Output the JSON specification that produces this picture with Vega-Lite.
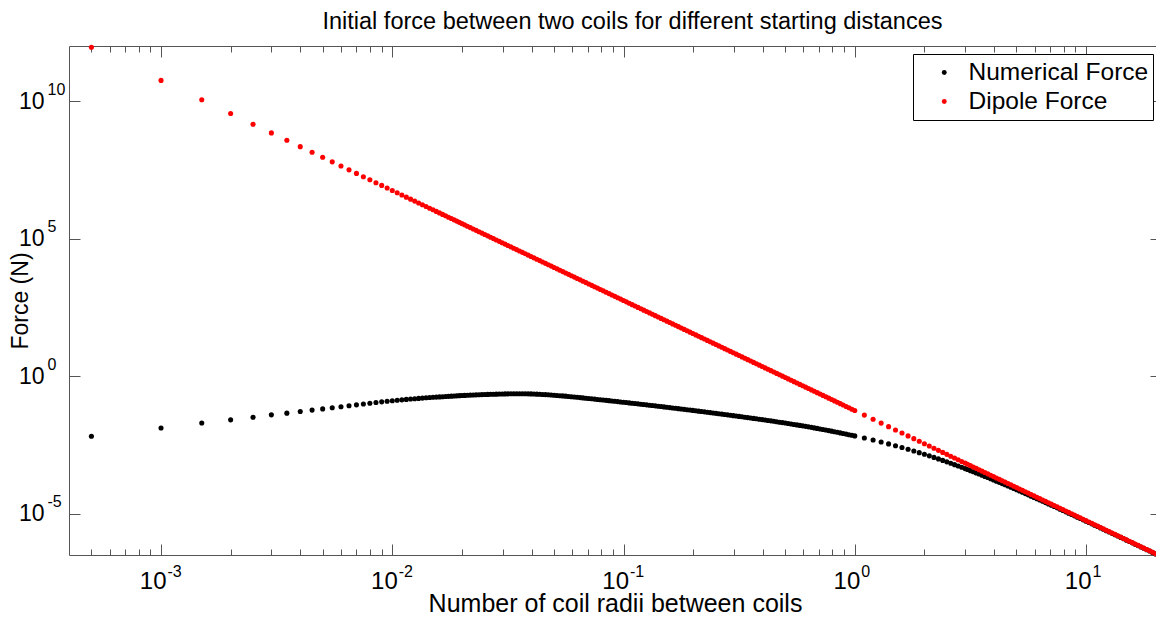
{
  "$schema": "https://vega.github.io/schema/vega-lite/v6.json",
  "width": 1087,
  "height": 509,
  "autosize": {"type": "none"},
  "padding": {"left": 69, "top": 46, "right": 0, "bottom": 65},
  "background": "#ffffff",
  "title": {
    "text": "Initial force between two coils for different starting distances",
    "font": "Liberation Sans",
    "fontSize": 23.5,
    "fontWeight": "normal",
    "color": "#000000",
    "anchor": "middle",
    "frame": "group",
    "baseline": "alphabetic",
    "offset": 17,
    "dx": 20,
    "dy": 25
  },
  "config": {
    "view": {"stroke": null},
    "axis": {
      "grid": false,
      "domainColor": "#555555",
      "tickColor": "#555555",
      "labelColor": "#000000",
      "titleColor": "#000000",
      "labelFont": "Liberation Sans",
      "titleFont": "Liberation Sans",
      "titleFontWeight": "normal",
      "labelFlush": false,
      "labelOverlap": false,
      "labelBound": false
    }
  },
  "data": {
    "values": [
      {"d":0.0005,"n":0.00653,"p":8.997e11},
      {"d":0.001,"n":0.0131,"p":5.623e10},
      {"d":0.0015,"n":0.0198,"p":1.111e10},
      {"d":0.002,"n":0.0258,"p":3.515e9},
      {"d":0.0025,"n":0.0321,"p":1.44e9},
      {"d":0.003,"n":0.0392,"p":6.942e8},
      {"d":0.0035,"n":0.0452,"p":3.747e8},
      {"d":0.004,"n":0.0521,"p":2.197e8},
      {"d":0.0045,"n":0.0583,"p":1.371e8},
      {"d":0.005,"n":0.0646,"p":8.997e7},
      {"d":0.0055,"n":0.0708,"p":6.145e7},
      {"d":0.006,"n":0.0774,"p":4.339e7},
      {"d":0.0065,"n":0.084,"p":3.15e7},
      {"d":0.007,"n":0.0905,"p":2.342e7},
      {"d":0.0075,"n":0.0972,"p":1.777e7},
      {"d":0.008,"n":0.1035,"p":1.373e7},
      {"d":0.0085,"n":0.1102,"p":1.077e7},
      {"d":0.009,"n":0.1164,"p":8.571e6},
      {"d":0.0095,"n":0.1219,"p":6.904e6},
      {"d":0.01,"n":0.1276,"p":5.623e6},
      {"d":0.0105,"n":0.1327,"p":4.626e6},
      {"d":0.011,"n":0.138,"p":3.841e6},
      {"d":0.0115,"n":0.1429,"p":3.215e6},
      {"d":0.012,"n":0.1472,"p":2.712e6},
      {"d":0.0125,"n":0.1517,"p":2.303e6},
      {"d":0.013,"n":0.1556,"p":1.969e6},
      {"d":0.0135,"n":0.1596,"p":1.693e6},
      {"d":0.014,"n":0.1633,"p":1.464e6},
      {"d":0.0145,"n":0.1671,"p":1.272e6},
      {"d":0.015,"n":0.1702,"p":1.111e6},
      {"d":0.0155,"n":0.1734,"p":9.742e5},
      {"d":0.016,"n":0.1766,"p":8.58e5},
      {"d":0.0165,"n":0.1795,"p":7.587e5},
      {"d":0.017,"n":0.182,"p":6.733e5},
      {"d":0.0175,"n":0.1845,"p":5.996e5},
      {"d":0.018,"n":0.1875,"p":5.357e5},
      {"d":0.0185,"n":0.1901,"p":4.801e5},
      {"d":0.019,"n":0.1928,"p":4.315e5},
      {"d":0.0195,"n":0.1954,"p":3.889e5},
      {"d":0.02,"n":0.1977,"p":3.514e5},
      {"d":0.02054,"n":0.2,"p":3.162e5},
      {"d":0.02113,"n":0.2023,"p":2.818e5},
      {"d":0.02175,"n":0.2046,"p":2.512e5},
      {"d":0.02239,"n":0.207,"p":2.239e5},
      {"d":0.02304,"n":0.2091,"p":1.995e5},
      {"d":0.02371,"n":0.2113,"p":1.778e5},
      {"d":0.02441,"n":0.2135,"p":1.585e5},
      {"d":0.02512,"n":0.2158,"p":1.413e5},
      {"d":0.02585,"n":0.2173,"p":1.259e5},
      {"d":0.02661,"n":0.219,"p":1.122e5},
      {"d":0.02738,"n":0.2208,"p":1e5},
      {"d":0.02818,"n":0.2223,"p":8.913e4},
      {"d":0.02901,"n":0.2236,"p":7.943e4},
      {"d":0.02985,"n":0.2249,"p":7.079e4},
      {"d":0.03073,"n":0.2262,"p":6.31e4},
      {"d":0.03162,"n":0.2275,"p":5.623e4},
      {"d":0.03255,"n":0.2281,"p":5.012e4},
      {"d":0.0335,"n":0.2288,"p":4.467e4},
      {"d":0.03447,"n":0.2294,"p":3.981e4},
      {"d":0.03548,"n":0.2301,"p":3.548e4},
      {"d":0.03652,"n":0.2292,"p":3.162e4},
      {"d":0.03758,"n":0.2283,"p":2.818e4},
      {"d":0.03868,"n":0.2274,"p":2.512e4},
      {"d":0.03981,"n":0.2265,"p":2.239e4},
      {"d":0.04097,"n":0.224,"p":1.995e4},
      {"d":0.04217,"n":0.2216,"p":1.778e4},
      {"d":0.0434,"n":0.2191,"p":1.585e4},
      {"d":0.04467,"n":0.2168,"p":1.413e4},
      {"d":0.04597,"n":0.2133,"p":1.259e4},
      {"d":0.04732,"n":0.2099,"p":1.122e4},
      {"d":0.0487,"n":0.2065,"p":1e4},
      {"d":0.05012,"n":0.2032,"p":8913},
      {"d":0.05158,"n":0.1991,"p":7943},
      {"d":0.05309,"n":0.1952,"p":7079},
      {"d":0.05464,"n":0.1913,"p":6310},
      {"d":0.05623,"n":0.1875,"p":5623},
      {"d":0.05788,"n":0.1831,"p":5012},
      {"d":0.05957,"n":0.1789,"p":4467},
      {"d":0.06131,"n":0.1747,"p":3981},
      {"d":0.0631,"n":0.1706,"p":3548},
      {"d":0.06494,"n":0.1663,"p":3162},
      {"d":0.06683,"n":0.1622,"p":2818},
      {"d":0.06879,"n":0.1581,"p":2512},
      {"d":0.07079,"n":0.1542,"p":2239},
      {"d":0.07286,"n":0.1502,"p":1995},
      {"d":0.07499,"n":0.1464,"p":1778},
      {"d":0.07718,"n":0.1427,"p":1585},
      {"d":0.07943,"n":0.139,"p":1413},
      {"d":0.08175,"n":0.1354,"p":1259},
      {"d":0.08414,"n":0.132,"p":1122},
      {"d":0.0866,"n":0.1286,"p":1000},
      {"d":0.08913,"n":0.1253,"p":891.3},
      {"d":0.09173,"n":0.122,"p":794.3},
      {"d":0.09441,"n":0.1189,"p":707.9},
      {"d":0.09716,"n":0.1157,"p":631},
      {"d":0.1,"n":0.1127,"p":562.3},
      {"d":0.1029,"n":0.1097,"p":501.2},
      {"d":0.1059,"n":0.1068,"p":446.7},
      {"d":0.109,"n":0.1039,"p":398.1},
      {"d":0.1122,"n":0.1012,"p":354.8},
      {"d":0.1155,"n":0.0984,"p":316.2},
      {"d":0.1189,"n":0.09572,"p":281.8},
      {"d":0.1223,"n":0.09311,"p":251.2},
      {"d":0.1259,"n":0.09057,"p":223.9},
      {"d":0.1296,"n":0.08805,"p":199.5},
      {"d":0.1334,"n":0.0856,"p":177.8},
      {"d":0.1372,"n":0.08321,"p":158.5},
      {"d":0.1413,"n":0.08091,"p":141.3},
      {"d":0.1454,"n":0.07862,"p":125.9},
      {"d":0.1496,"n":0.07638,"p":112.2},
      {"d":0.154,"n":0.07421,"p":100},
      {"d":0.1585,"n":0.07211,"p":89.13},
      {"d":0.1631,"n":0.07002,"p":79.43},
      {"d":0.1679,"n":0.068,"p":70.79},
      {"d":0.1728,"n":0.06603,"p":63.1},
      {"d":0.1778,"n":0.06412,"p":56.23},
      {"d":0.183,"n":0.06223,"p":50.12},
      {"d":0.1884,"n":0.06039,"p":44.67},
      {"d":0.1939,"n":0.05861,"p":39.81},
      {"d":0.1995,"n":0.05689,"p":35.48},
      {"d":0.2054,"n":0.05516,"p":31.62},
      {"d":0.2113,"n":0.05351,"p":28.18},
      {"d":0.2175,"n":0.0519,"p":25.12},
      {"d":0.2239,"n":0.05035,"p":22.39},
      {"d":0.2304,"n":0.04881,"p":19.95},
      {"d":0.2371,"n":0.04732,"p":17.78},
      {"d":0.2441,"n":0.04587,"p":15.85},
      {"d":0.2512,"n":0.04446,"p":14.13},
      {"d":0.2585,"n":0.04307,"p":12.59},
      {"d":0.2661,"n":0.04174,"p":11.22},
      {"d":0.2738,"n":0.04043,"p":10},
      {"d":0.2818,"n":0.03917,"p":8.913},
      {"d":0.2901,"n":0.03793,"p":7.943},
      {"d":0.2985,"n":0.03673,"p":7.079},
      {"d":0.3073,"n":0.03556,"p":6.31},
      {"d":0.3162,"n":0.03443,"p":5.623},
      {"d":0.3255,"n":0.03332,"p":5.012},
      {"d":0.335,"n":0.03225,"p":4.467},
      {"d":0.3447,"n":0.03121,"p":3.981},
      {"d":0.3548,"n":0.0302,"p":3.548},
      {"d":0.3652,"n":0.02921,"p":3.162},
      {"d":0.3758,"n":0.02825,"p":2.818},
      {"d":0.3868,"n":0.02732,"p":2.512},
      {"d":0.3981,"n":0.02642,"p":2.239},
      {"d":0.4097,"n":0.0255,"p":1.995},
      {"d":0.4217,"n":0.0246,"p":1.778},
      {"d":0.434,"n":0.02374,"p":1.585},
      {"d":0.4467,"n":0.02291,"p":1.413},
      {"d":0.4597,"n":0.02207,"p":1.259},
      {"d":0.4732,"n":0.02126,"p":1.122},
      {"d":0.487,"n":0.02048,"p":1},
      {"d":0.5012,"n":0.01972,"p":0.8913},
      {"d":0.5158,"n":0.01897,"p":0.7943},
      {"d":0.5309,"n":0.01826,"p":0.7079},
      {"d":0.5464,"n":0.01757,"p":0.631},
      {"d":0.5623,"n":0.0169,"p":0.5623},
      {"d":0.5788,"n":0.01624,"p":0.5012},
      {"d":0.5957,"n":0.0156,"p":0.4467},
      {"d":0.6131,"n":0.01498,"p":0.3981},
      {"d":0.631,"n":0.01439,"p":0.3548},
      {"d":0.6494,"n":0.01377,"p":0.3162},
      {"d":0.6683,"n":0.01318,"p":0.2818},
      {"d":0.6879,"n":0.01262,"p":0.2512},
      {"d":0.7079,"n":0.01208,"p":0.2239},
      {"d":0.7286,"n":0.01153,"p":0.1995},
      {"d":0.7499,"n":0.01102,"p":0.1778},
      {"d":0.7718,"n":0.01052,"p":0.1585},
      {"d":0.7943,"n":0.01005,"p":0.1413},
      {"d":0.8175,"n":0.009565,"p":0.1259},
      {"d":0.8414,"n":0.00911,"p":0.1122},
      {"d":0.866,"n":0.008674,"p":0.1},
      {"d":0.8913,"n":0.00826,"p":0.08913},
      {"d":0.9173,"n":0.007848,"p":0.07943},
      {"d":0.9441,"n":0.007456,"p":0.07079},
      {"d":0.9716,"n":0.007083,"p":0.0631},
      {"d":1,"n":0.00673,"p":0.05623},
      {"d":1.1,"n":0.005652,"p":0.03841},
      {"d":1.2,"n":0.004769,"p":0.02712},
      {"d":1.3,"n":0.004047,"p":0.01969},
      {"d":1.4,"n":0.003453,"p":0.01464},
      {"d":1.5,"n":0.002958,"p":0.01111},
      {"d":1.6,"n":0.002546,"p":0.00858},
      {"d":1.7,"n":0.002199,"p":0.006732},
      {"d":1.8,"n":0.001907,"p":0.005357},
      {"d":1.9,"n":0.001659,"p":0.004315},
      {"d":2,"n":0.001449,"p":0.003514},
      {"d":2.1,"n":0.001269,"p":0.002891},
      {"d":2.2,"n":0.001115,"p":0.0024},
      {"d":2.3,"n":0.0009822,"p":0.002009},
      {"d":2.4,"n":0.000868,"p":0.001695},
      {"d":2.5,"n":0.000769,"p":0.00144},
      {"d":2.6,"n":0.0006833,"p":0.00123},
      {"d":2.7,"n":0.0006088,"p":0.001058},
      {"d":2.8,"n":0.0005437,"p":0.0009148},
      {"d":2.9,"n":0.0004868,"p":0.000795},
      {"d":3,"n":0.0004369,"p":0.0006942},
      {"d":3.073,"n":4.045e-4,"p":6.31e-4},
      {"d":3.162,"n":3.683e-4,"p":5.623e-4},
      {"d":3.255,"n":3.352e-4,"p":5.012e-4},
      {"d":3.35,"n":3.046e-4,"p":4.467e-4},
      {"d":3.447,"n":2.766e-4,"p":3.981e-4},
      {"d":3.548,"n":2.511e-4,"p":3.548e-4},
      {"d":3.652,"n":2.277e-4,"p":3.162e-4},
      {"d":3.758,"n":2.063e-4,"p":2.818e-4},
      {"d":3.868,"n":1.868e-4,"p":2.512e-4},
      {"d":3.981,"n":1.69e-4,"p":2.239e-4},
      {"d":4.097,"n":1.528e-4,"p":1.995e-4},
      {"d":4.217,"n":1.38e-4,"p":1.778e-4},
      {"d":4.34,"n":1.246e-4,"p":1.585e-4},
      {"d":4.467,"n":1.125e-4,"p":1.413e-4},
      {"d":4.597,"n":1.014e-4,"p":1.259e-4},
      {"d":4.732,"n":9.141e-5,"p":1.122e-4},
      {"d":4.87,"n":8.236e-5,"p":1e-4},
      {"d":5.012,"n":7.417e-5,"p":8.913e-5},
      {"d":5.158,"n":6.673e-5,"p":7.943e-5},
      {"d":5.309,"n":6.002e-5,"p":7.079e-5},
      {"d":5.464,"n":5.396e-5,"p":6.31e-5},
      {"d":5.623,"n":4.85e-5,"p":5.623e-5},
      {"d":5.788,"n":4.356e-5,"p":5.012e-5},
      {"d":5.957,"n":3.912e-5,"p":4.467e-5},
      {"d":6.131,"n":3.512e-5,"p":3.981e-5},
      {"d":6.31,"n":3.15e-5,"p":3.548e-5},
      {"d":6.494,"n":2.826e-5,"p":3.162e-5},
      {"d":6.683,"n":2.534e-5,"p":2.818e-5},
      {"d":6.879,"n":2.272e-5,"p":2.512e-5},
      {"d":7.079,"n":2.036e-5,"p":2.239e-5},
      {"d":7.286,"n":1.824e-5,"p":1.995e-5},
      {"d":7.499,"n":1.633e-5,"p":1.778e-5},
      {"d":7.718,"n":1.462e-5,"p":1.585e-5},
      {"d":7.943,"n":1.309e-5,"p":1.413e-5},
      {"d":8.175,"n":1.171e-5,"p":1.259e-5},
      {"d":8.414,"n":1.048e-5,"p":1.122e-5},
      {"d":8.66,"n":9.378e-6,"p":1e-5},
      {"d":8.913,"n":8.387e-6,"p":8.913e-6},
      {"d":9.173,"n":7.499e-6,"p":7.943e-6},
      {"d":9.441,"n":6.705e-6,"p":7.079e-6},
      {"d":9.716,"n":5.994e-6,"p":6.31e-6},
      {"d":10,"n":5.356e-6,"p":5.623e-6},
      {"d":10.29,"n":4.787e-6,"p":5.012e-6},
      {"d":10.59,"n":4.278e-6,"p":4.467e-6},
      {"d":10.9,"n":3.821e-6,"p":3.981e-6},
      {"d":11.22,"n":3.414e-6,"p":3.548e-6},
      {"d":11.55,"n":3.049e-6,"p":3.162e-6},
      {"d":11.89,"n":2.723e-6,"p":2.818e-6},
      {"d":12.23,"n":2.431e-6,"p":2.512e-6},
      {"d":12.59,"n":2.171e-6,"p":2.239e-6},
      {"d":12.96,"n":1.939e-6,"p":1.995e-6},
      {"d":13.34,"n":1.73e-6,"p":1.778e-6},
      {"d":13.72,"n":1.544e-6,"p":1.585e-6},
      {"d":14.13,"n":1.379e-6,"p":1.413e-6},
      {"d":14.54,"n":1.23e-6,"p":1.259e-6},
      {"d":14.96,"n":1.098e-6,"p":1.122e-6},
      {"d":15.4,"n":9.795e-7,"p":1e-6},
      {"d":15.85,"n":8.74e-7,"p":8.913e-7},
      {"d":16.31,"n":7.798e-7,"p":7.943e-7},
      {"d":16.79,"n":6.957e-7,"p":7.079e-7},
      {"d":17.28,"n":6.207e-7,"p":6.31e-7},
      {"d":17.78,"n":5.537e-7,"p":5.623e-7},
      {"d":18.3,"n":4.939e-7,"p":5.012e-7},
      {"d":18.84,"n":4.406e-7,"p":4.467e-7},
      {"d":19.39,"n":3.929e-7,"p":3.981e-7},
      {"d":20,"n":3.472e-7,"p":3.514e-7}
    ]
  },
  "layer": [
    {
      "mark": {"type": "point", "shape": "circle", "filled": true, "size": 26, "opacity": 1},
      "encoding": {
        "x": {
          "field": "d", "type": "quantitative",
          "scale": {"type": "log", "domain": [0.0004, 20.07], "nice": false},
          "axis": {
            "orient": "bottom", "values": [0.001, 0.01, 0.1, 1, 10],
            "offset": -11, "tickSize": 11, "domain": false,
            "labelExpr": "'10'", "labelFontSize": 24, "labelAlign": "right",
            "labelBaseline": "alphabetic", "labelOffset": 5, "labelPadding": 33,
            "title": null
          }
        },
        "y": {
          "field": "n", "type": "quantitative",
          "scale": {"type": "log", "domain": [3.162e-7, 1e12], "nice": false},
          "axis": {
            "orient": "left", "values": [1e-5, 1, 1e5, 1e10],
            "offset": -11, "tickSize": 11, "domain": false,
            "labelExpr": "'10'", "labelFontSize": 23, "labelAlign": "right",
            "labelBaseline": "alphabetic", "labelOffset": 7, "labelPadding": 25,
            "title": null
          }
        },
        "color": {
          "datum": "Numerical Force", "type": "nominal",
          "scale": {"domain": ["Numerical Force", "Dipole Force"], "range": ["#000000", "#ff0000"]},
          "legend": {
            "title": null, "orient": "none", "legendX": 844, "legendY": 8,
            "strokeColor": "#000000", "fillColor": "#ffffff", "padding": 4,
            "labelFont": "Liberation Sans", "labelFontSize": 24.5, "labelColor": "#000000", "labelLimit": 400,
            "symbolType": "circle", "symbolSize": 24, "symbolStrokeWidth": 0,
            "clipHeight": 29, "rowPadding": 0, "symbolOffset": 15, "labelOffset": 12
          }
        }
      }
    },
    {
      "mark": {"type": "point", "shape": "circle", "filled": true, "size": 26, "opacity": 1},
      "encoding": {
        "x": {
          "field": "d", "type": "quantitative",
          "scale": {"type": "log", "domain": [0.0004, 20.07], "nice": false},
          "axis": {
            "orient": "bottom", "values": [0.001, 0.01, 0.1, 1, 10],
            "ticks": false, "domain": true,
            "labelExpr": "'' + round(log(datum.value) / LN10)", "labelFontSize": 16,
            "labelAlign": "left", "labelBaseline": "alphabetic", "labelOffset": 6, "labelPadding": 21,
            "title": "Number of coil radii between coils", "titleFontSize": 25,
            "titleX": 546, "titleY": 56, "titleBaseline": "alphabetic", "titleAlign": "center"
          }
        },
        "y": {
          "field": "p", "type": "quantitative",
          "scale": {"type": "log", "domain": [3.162e-7, 1e12], "nice": false},
          "axis": {
            "orient": "left", "values": [1e-5, 1, 1e5, 1e10],
            "ticks": false, "domain": true,
            "labelExpr": "'' + round(log(datum.value) / LN10)", "labelFontSize": 16,
            "labelAlign": "left", "labelBaseline": "alphabetic", "labelOffset": -7, "labelPadding": 22,
            "title": "Force (N)", "titleFontSize": 23, "titleAngle": 270,
            "titleX": -42, "titleY": 254.5, "titleBaseline": "alphabetic", "titleAlign": "center"
          }
        },
        "color": {"datum": "Dipole Force", "type": "nominal"}
      }
    },
    {
      "transform": [{"filter": "datum.d == 1"}],
      "mark": {"type": "point", "opacity": 0},
      "encoding": {
        "x": {
          "field": "d", "type": "quantitative",
          "scale": {"type": "log", "domain": [0.0004, 20.07], "nice": false},
          "axis": {"orient": "top", "values": [0.001, 0.01, 0.1, 1, 10], "offset": -11, "tickSize": 11, "domain": false, "labels": false, "title": null}
        },
        "y": {
          "field": "n", "type": "quantitative",
          "scale": {"type": "log", "domain": [3.162e-7, 1e12], "nice": false},
          "axis": {"orient": "right", "values": [1e-5, 1, 1e5, 1e10], "offset": -6, "tickSize": 6, "domain": false, "labels": false, "title": null}
        }
      }
    },
    {
      "transform": [{"filter": "datum.d == 1"}],
      "mark": {"type": "point", "opacity": 0},
      "encoding": {
        "x": {
          "field": "d", "type": "quantitative",
          "scale": {"type": "log", "domain": [0.0004, 20.07], "nice": false},
          "axis": {"orient": "bottom", "values": [0.0005, 0.0006, 0.0007, 0.0008, 0.0009, 0.002, 0.003, 0.004, 0.005, 0.006, 0.007, 0.008, 0.009, 0.02, 0.03, 0.04, 0.05, 0.06, 0.07, 0.08, 0.09, 0.2, 0.3, 0.4, 0.5, 0.6, 0.7, 0.8, 0.9, 2, 3, 4, 5, 6, 7, 8, 9], "offset": -6, "tickSize": 6, "domain": false, "labels": false, "title": null}
        },
        "y": {
          "field": "n", "type": "quantitative",
          "scale": {"type": "log", "domain": [3.162e-7, 1e12], "nice": false},
          "axis": null
        }
      }
    },
    {
      "transform": [{"filter": "datum.d == 1"}],
      "mark": {"type": "point", "opacity": 0},
      "encoding": {
        "x": {
          "field": "d", "type": "quantitative",
          "scale": {"type": "log", "domain": [0.0004, 20.07], "nice": false},
          "axis": {"orient": "top", "values": [0.0005, 0.0006, 0.0007, 0.0008, 0.0009, 0.002, 0.003, 0.004, 0.005, 0.006, 0.007, 0.008, 0.009, 0.02, 0.03, 0.04, 0.05, 0.06, 0.07, 0.08, 0.09, 0.2, 0.3, 0.4, 0.5, 0.6, 0.7, 0.8, 0.9, 2, 3, 4, 5, 6, 7, 8, 9], "offset": -6, "tickSize": 6, "domain": false, "labels": false, "title": null}
        },
        "y": {
          "field": "n", "type": "quantitative",
          "scale": {"type": "log", "domain": [3.162e-7, 1e12], "nice": false},
          "axis": null
        }
      }
    },
    {
      "transform": [{"filter": "datum.d == 1"}],
      "mark": {"type": "point", "opacity": 0},
      "encoding": {
        "x": {
          "field": "d", "type": "quantitative",
          "scale": {"type": "log", "domain": [0.0004, 20.07], "nice": false},
          "axis": {"orient": "top", "ticks": false, "domain": true, "labels": false, "title": null}
        },
        "y": {
          "field": "n", "type": "quantitative",
          "scale": {"type": "log", "domain": [3.162e-7, 1e12], "nice": false},
          "axis": null
        }
      }
    }
  ],
  "resolve": {"axis": {"x": "independent", "y": "independent"}}
}
